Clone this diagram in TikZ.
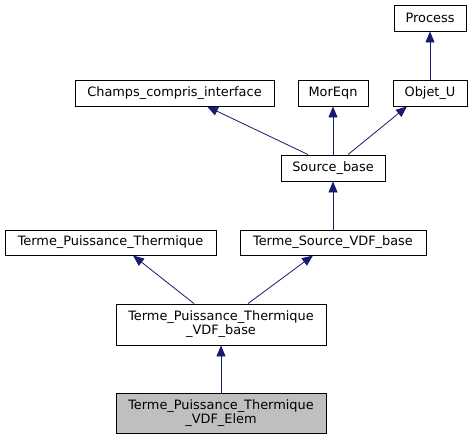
\documentclass[tikz,border=0pt]{standalone}
\usepackage{fontspec}
\setmainfont{DejaVu Sans}
\usetikzlibrary{arrows.meta}
\definecolor{edgeblue}{HTML}{191970}
\definecolor{hilite}{HTML}{BFBFBF}
\tikzstyle{cls}=[draw, line width=0.9pt, inner sep=0pt, align=center, font=\fontsize{12.9}{14}\selectfont, minimum height=26pt]
\tikzstyle{hcls}=[cls, fill=hilite]
\tikzstyle{inh}=[draw=edgeblue, line width=0.8pt, {Triangle[length=11pt,width=9pt]}-, color=edgeblue]

\begin{document}
\begin{tikzpicture}[x=1pt, y=-1pt]
        \useasboundingbox (0,0) rectangle (473,440);
        \node[cls, minimum width=72pt] (Proc) at (430, 18) {Process};
        \node[cls, minimum width=199pt] (Champs) at (174.5, 93) {Champs\_compris\_interface};
        \node[cls, minimum width=70pt] (MorEqn) at (333, 93) {MorEqn};
        \node[cls, minimum width=74pt] (ObjU) at (430, 93) {Objet\_U};
        \node[cls, minimum width=104pt] (Src) at (333, 168) {Source\_base};
        \node[cls, minimum width=211pt, minimum height=25pt] (TPT) at (110.5, 242.5) {Terme\_Puissance\_Thermique};
        \node[cls, minimum width=186pt, minimum height=25pt] (TSV) at (333, 242.5) {Terme\_Source\_VDF\_base};
        \node[cls, minimum width=210pt, minimum height=41pt] (TPTV) at (221, 324.5) {Terme\_Puissance\_Thermique\\\_VDF\_base};
        \node[hcls, minimum width=210pt, minimum height=40pt] (Elem) at (221, 413) {Terme\_Puissance\_Thermique\\\_VDF\_Elem};
        \draw[inh] (Proc.south) -- (ObjU.north);
        \draw[inh] (Champs.south -| 207,0) -- (Src.north -| 308,0);
        \draw[inh] (MorEqn.south) -- (Src.north);
        \draw[inh] (ObjU.south -| 407,0) -- (Src.north -| 348,0);
        \draw[inh] (Src.south) -- (TSV.north);
        \draw[inh] (TPT.south -| 133,0) -- (TPTV.north -| 194,0);
        \draw[inh] (TSV.south -| 313,0) -- (TPTV.north -| 248,0);
        \draw[inh] (TPTV.south) -- (Elem.north);
    \end{tikzpicture}
\end{document}
